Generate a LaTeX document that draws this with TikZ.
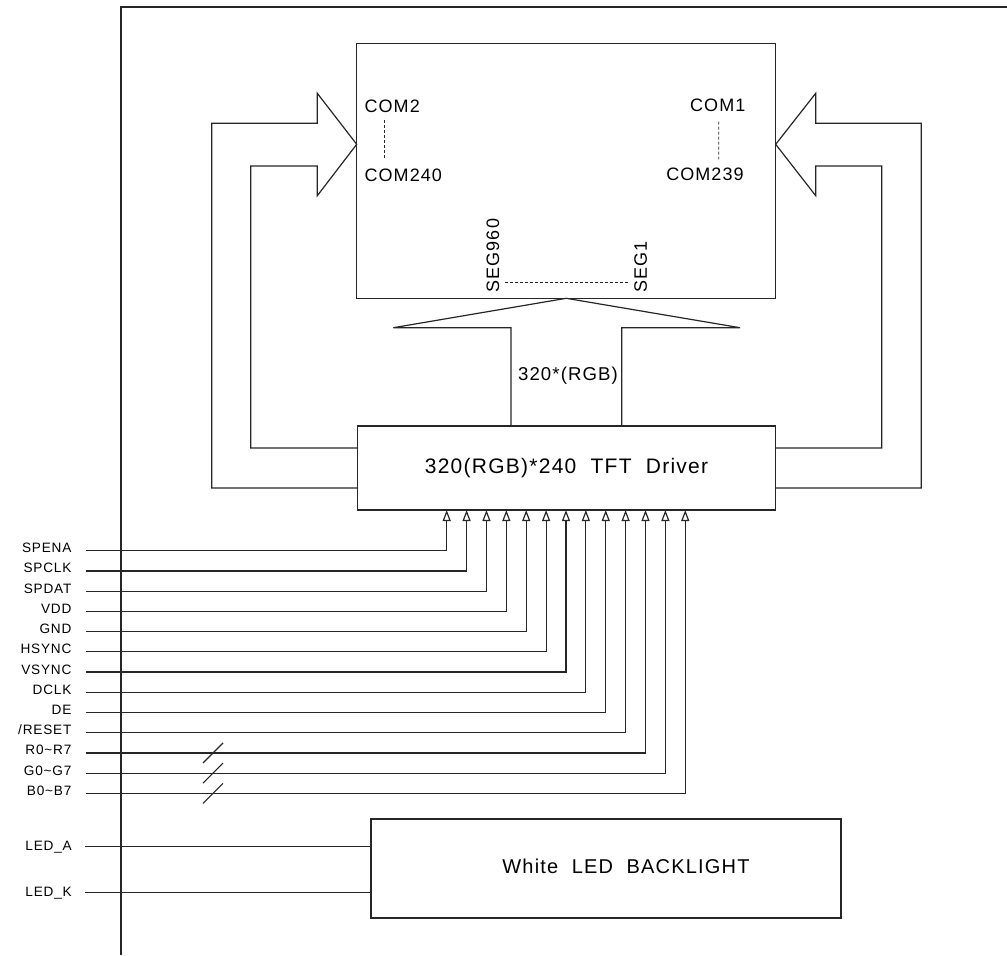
\documentclass[tikz,border=0pt]{standalone}
\usepackage{fontspec}
\setmainfont{Liberation Sans}
\newfontfamily\cadfont[LetterSpace=6]{Liberation Sans}
\usepackage{tikz}
\usetikzlibrary{arrows.meta,positioning,calc}

\begin{document}
\begin{tikzpicture}[x=0.5pt,y=-0.5pt,line width=0.6pt,draw=black!85,
		box/.style={draw,inner sep=0pt,outer sep=0pt},
		pin/.style={-{Triangle[open,length=5.5pt,width=4pt]}},
		dashln/.style={dash pattern=on 1.5pt off 1pt,line width=0.45pt},
		sig/.style={font=\cadfont\fontsize{6.8}{8}\selectfont,inner sep=0pt},
		com/.style={font=\cadfont\fontsize{9}{10}\selectfont,inner sep=0pt}]
	\useasboundingbox (0,0) rectangle (1007,955);
	% frame
	\draw (121,955) -- (121,7) -- (1007,7);
	% panel, driver, backlight
	\node [box,minimum width=209.5pt,minimum height=127.5pt] (lcd) at (566.2,170.8) {};
	\node [box,minimum width=209.2pt,minimum height=42pt,font=\cadfont\fontsize{10.5}{12}\selectfont] (drv) at (566.5,468) {320(RGB)*240\ \ TFT\ \ Driver};
	\node [box,minimum width=235pt,minimum height=49.5pt] (bl) at (606,868.5) {};
	\node [font=\cadfont\fontsize{10}{12}\selectfont] (bltxt) at (626,866) {White\ \ LED\ \ BACKLIGHT};
	% COM / SEG labels
	\node [com,anchor=base west] (com2)   at (364,112.7) {COM2};
	\node [com,anchor=base west] (com240) at (364,181.7) {COM240};
	\node [com,anchor=base east] (com1)   at (746,111.7) {COM1};
	\node [com,anchor=base east] (com239) at (744.3,180.7) {COM239};
	\draw [dashln] ($(com2.base west)+(20,7.5)$) -- ($(com240.base west)+(20,-23.5)$);
	\draw [dashln] ($(com1.base east)+(-27.3,10)$) -- ($(com239.base east)+(-25.6,-21.4)$);
	\node [com,rotate=90,anchor=west] (seg960) at (493,293) {SEG960};
	\node [com,rotate=90,anchor=west] (seg1)   at (640.7,293) {SEG1};
	\draw [dashln] ($(seg960.west)+(12,-11)$) -- ($(seg1.west)+(-13,-11)$);
	% fat arrows
	\coordinate (ltip) at ($(lcd.north west)+(0,101)$);
	\coordinate (rtip) at ($(lcd.north east)+(0,101)$);
	\draw ($(drv.west)+(0,20)$) -| (211.7,123.3) -- (317.3,123.3) -- (317.3,93.3) -- (ltip)
		-- (317.3,195.7) -- (317.3,166) -- (250.7,166) |- ($(drv.west)+(0,-20)$);
	\draw ($(drv.east)+(0,20)$) -| (921.3,123.3) -- (815.7,123.3) -- (815.7,93.3) -- (rtip)
		-- (815.7,195.7) -- (815.7,166) -- (881.7,166) |- ($(drv.east)+(0,-20)$);
	\draw ($(drv.north)+(-55.5,0)$) |- (393.3,327.7) -- (lcd.south) -- (740,327.7) -| ($(drv.north)+(55.2,0)$);
	\node [font=\cadfont\fontsize{9.3}{11}\selectfont] (bus) at (568,376) {320*(RGB)};
	% interface pins
	\foreach \nm [count=\i] in {SPENA,SPCLK,SPDAT,VDD,GND,HSYNC,VSYNC,DCLK,DE,/RESET,R0\textasciitilde R7,G0\textasciitilde G7,B0\textasciitilde B7}{
		\coordinate (s\i) at (86,{550.7+(\i-1)*20.22});
		\coordinate (p\i) at ($(drv.south west)+({89.4+(\i-1)*19.88},0)$);
		\node [sig,anchor=base east] (l\i) at ($(s\i)+(-14,2)$) {\nm};
		\draw [pin] (s\i) -| (p\i);
	}
	\foreach \i in {11,12,13}
		\draw ($(s\i)+(117,10)$) -- ++(20,-20);
	% backlight pins
	\coordinate (sa) at (85.4,846.7);
	\coordinate (sk) at (85.4,892.3);
	\node [sig,anchor=base east] (la) at ($(sa)+(-13,4)$) {LED\_A};
	\node [sig,anchor=base east] (lk) at ($(sk)+(-13,4)$) {LED\_K};
	\draw (sa) -- (sa -| bl.west);
	\draw (sk) -- (sk -| bl.west);
\end{tikzpicture}
\end{document}
